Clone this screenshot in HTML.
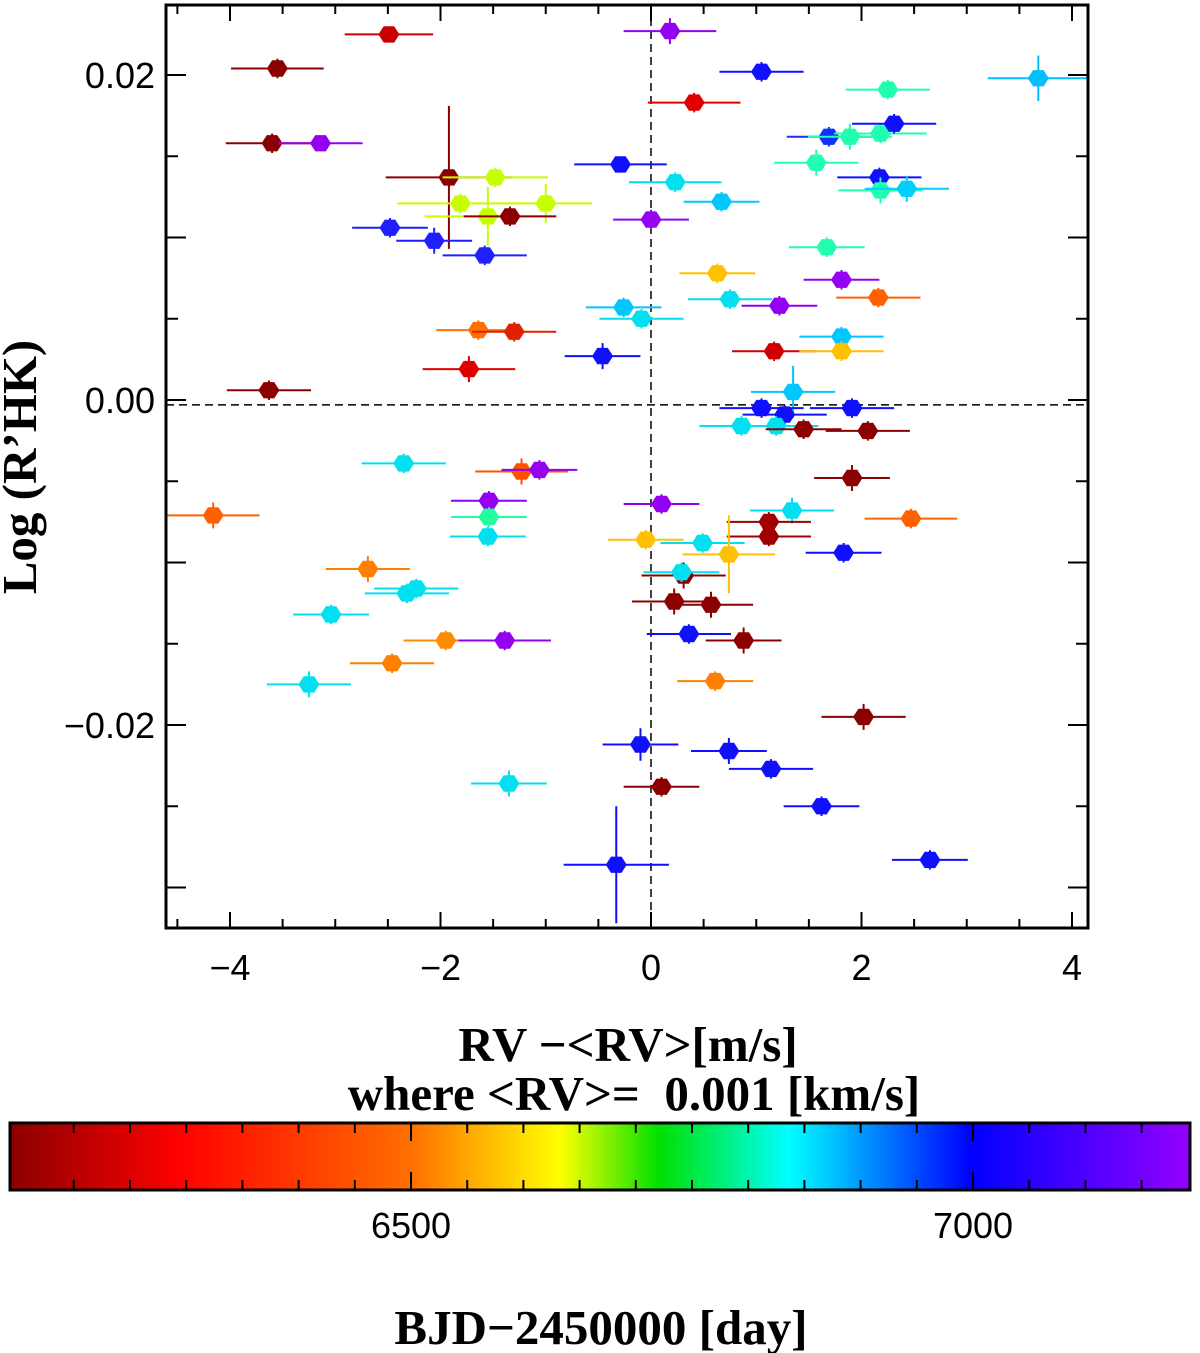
<!DOCTYPE html>
<html><head><meta charset="utf-8"><style>
body{margin:0;background:#fff;}
svg{display:block;}
.tl{font-family:"Liberation Sans",sans-serif;font-size:36px;}
.bl{font-family:"Liberation Serif",serif;font-weight:bold;font-size:49px;}
</style></head><body>
<svg id="c" width="1200" height="1353" xmlns="http://www.w3.org/2000/svg"></svg>
<script>
const xs=[-3.55,-2.49,0.18,1.05,3.68,2.25,0.41,-3.60,-3.14,1.69,1.89,2.18,2.31,1.57,-0.29,0.23,-1.92,-1.48,2.17,2.18,2.43,-1.81,-1.55,-1.00,-1.34,0.67,0.00,-2.48,-2.06,-1.58,1.67,0.63,1.81,0.75,-0.26,-0.09,1.22,2.16,-1.64,-1.30,1.81,1.17,1.81,-0.46,-1.73,-3.63,1.35,1.05,1.91,1.27,0.86,1.19,1.45,2.06,-2.35,-1.23,-1.06,1.91,-4.16,-1.54,0.10,-1.54,1.34,2.47,1.12,1.12,-1.55,-0.05,0.49,0.74,1.83,-2.69,0.31,0.29,-2.32,-2.23,0.22,0.57,-3.04,0.36,0.88,-1.95,-1.39,-2.46,-3.25,0.61,2.02,-0.10,0.74,1.14,1.62,-1.35,0.10,-0.33,2.65];
const ys=[0.0204,0.0225,0.0227,0.0202,0.0198,0.0191,0.0183,0.0158,0.0158,0.0162,0.0162,0.0164,0.0170,0.0146,0.0145,0.0134,0.0137,0.0137,0.0137,0.0129,0.0130,0.0121,0.0113,0.0121,0.0113,0.0122,0.0111,0.0106,0.0098,0.0089,0.0094,0.0078,0.0074,0.0062,0.0057,0.0050,0.0058,0.0063,0.0043,0.0042,0.0039,0.0030,0.0030,0.0027,0.0019,0.0006,0.0005,-0.0005,-0.0005,-0.0009,-0.0016,-0.0016,-0.0018,-0.0019,-0.0039,-0.0044,-0.0043,-0.0048,-0.0071,-0.0062,-0.0064,-0.0072,-0.0068,-0.0073,-0.0075,-0.0084,-0.0084,-0.0086,-0.0088,-0.0095,-0.0094,-0.0104,-0.0108,-0.0106,-0.0119,-0.0116,-0.0124,-0.0126,-0.0132,-0.0144,-0.0148,-0.0148,-0.0148,-0.0162,-0.0175,-0.0173,-0.0195,-0.0212,-0.0216,-0.0227,-0.0250,-0.0236,-0.0238,-0.0286,-0.0283];
const xerr=[0.44,0.42,0.44,0.4,0.48,0.4,0.44,0.44,0.4,0.4,0.4,0.44,0.4,0.4,0.44,0.44,0.6,0.5,0.4,0.4,0.4,0.6,0.6,0.44,0.44,0.36,0.36,0.36,0.36,0.4,0.36,0.36,0.36,0.4,0.36,0.4,0.36,0.4,0.4,0.4,0.4,0.4,0.4,0.36,0.44,0.4,0.4,0.4,0.4,0.4,0.4,0.4,0.36,0.4,0.4,0.44,0.36,0.36,0.44,0.36,0.36,0.36,0.4,0.44,0.4,0.4,0.36,0.36,0.4,0.44,0.36,0.4,0.4,0.36,0.4,0.4,0.4,0.4,0.36,0.4,0.36,0.4,0.44,0.4,0.4,0.36,0.4,0.36,0.36,0.4,0.36,0.36,0.36,0.5,0.36];
const yerr=[0.0006,0.0004,0.0008,0.0006,0.0014,0.0006,0.0006,0.0006,0.0004,0.0006,0.0008,0.0006,0.0006,0.0008,0.0004,0.0006,0.0044,0.0006,0.0006,0.0008,0.0008,0.0006,0.0018,0.0012,0.0006,0.0006,0.0006,0.0006,0.0008,0.0006,0.0006,0.0006,0.0006,0.0006,0.0006,0.0006,0.0006,0.0006,0.0006,0.0006,0.0006,0.0006,0.0006,0.0008,0.0008,0.0006,0.0016,0.0006,0.0006,0.0006,0.0006,0.0006,0.0006,0.0006,0.0006,0.0008,0.0006,0.0008,0.0008,0.0006,0.0006,0.0006,0.0008,0.0006,0.0006,0.0006,0.0006,0.0006,0.0006,0.0024,0.0006,0.0008,0.0008,0.0006,0.0006,0.0006,0.0008,0.0008,0.0006,0.0006,0.0008,0.0006,0.0006,0.0006,0.0008,0.0006,0.0008,0.0010,0.0008,0.0006,0.0006,0.0008,0.0006,0.0036,0.0006];
const cols=["#8b0000","#cc0000","#9400f0","#1010ff","#00bfff","#20ffb0","#e00000","#8b0000","#9400f0","#1030ff","#20ffb0","#20ffb0","#1010ff","#20ffb0","#1010ff","#00e0f0","#8b0000","#c8ff00","#1010ff","#20ffb0","#00d0ff","#c8ff00","#c8ff00","#c8ff00","#8b0000","#00c8ff","#9400f0","#2020ff","#2020ff","#2020ff","#20ffb0","#ffc000","#9400f0","#00e0f0","#00c8ff","#00e0f0","#9400f0","#ff6000","#ff7000","#e02000","#00c8ff","#d00000","#ffc000","#1010ff","#e00000","#8b0000","#00c8ff","#1010ff","#1010ff","#1010ff","#00e0f0","#00e0f0","#8b0000","#8b0000","#00e0f0","#ff5000","#9400f0","#8b0000","#ff6000","#9400f0","#9400f0","#20ffa0","#00e0f0","#ff6000","#a00000","#a00000","#00e0f0","#ffc000","#00e0f0","#ffc000","#1010ff","#ff8000","#8b0000","#00e0f0","#00e0f0","#00e0f0","#8b0000","#8b0000","#00e0f0","#1010ff","#8b0000","#ff8c00","#9400f0","#ff8000","#00e0f0","#ff8000","#8b0000","#1010ff","#1010ff","#1010ff","#1010ff","#00e0f0","#8b0000","#1010ff","#1010ff"];
const xTicks=[-4,-2,0,2,4];
const yTicks=[0.02,0.00,-0.02];
const yTickLabels=["0.02","0.00","\u22120.02"];
const xTickLabels=["\u22124","\u22122","0","2","4"];
const cbTicks=[6500,7000];

const NS="http://www.w3.org/2000/svg";
const svg=document.getElementById('c');
const L=166,R=1088,T=5,B=928;
const X=v=>651+v*105.25, Y=v=>400-v*16250;
const CB0=10,CB1=1190,CBT=1123,CBB=1190;
const CX=d=>411+(d-6500)*1.124;
function el(t,a,p){const e=document.createElementNS(NS,t);for(const k in a)e.setAttribute(k,a[k]);(p||svg).appendChild(e);return e;}

const defs=el('defs',{});
const g=el('linearGradient',{id:'gr',x1:0,x2:1,y1:0,y2:0},defs);
[[0,'#8b0000'],[0.144,'#ff0000'],[0.34,'#ff7000'],[0.466,'#ffff00'],[0.55,'#00e000'],[0.66,'#00ffff'],[0.814,'#0000ff'],[1,'#9400ff']].forEach(s=>el('stop',{offset:s[0],'stop-color':s[1]},g));

const d1=el('line',{x1:X(0),x2:X(0),y1:T,y2:B,stroke:'#000','stroke-width':1.5,'stroke-dasharray':'8,5'});


const d2=el('line',{x1:L,x2:R,y1:Y(-0.0003),y2:Y(-0.0003),stroke:'#000','stroke-width':1.5,'stroke-dasharray':'8,5'});



const clip=el('clipPath',{id:'pc'},defs);
el('rect',{x:L,y:T,width:R-L,height:B-T},clip);
const pg=el('g',{'clip-path':'url(#pc)'});


for(let i=0;i<xs.length;i++){
  const cx=X(xs[i]),cy=Y(ys[i]),c=cols[i];
  const p=el('g',{},pg);
  
  
  el('line',{x1:X(xs[i]-xerr[i]),x2:X(xs[i]+xerr[i]),y1:cy,y2:cy,stroke:c,'stroke-width':2},p);
  el('line',{x1:cx,x2:cx,y1:Y(ys[i]+yerr[i]),y2:Y(ys[i]-yerr[i]),stroke:c,'stroke-width':2},p);
  const r=10.5,pts=[];
  for(let k=0;k<6;k++){const a=k*Math.PI/3;pts.push((cx+r*Math.cos(a)).toFixed(1)+','+(cy+r*0.9*Math.sin(a)).toFixed(1));}
  el('polygon',{points:pts.join(' '),fill:c},p);
}

const fr=el('rect',{x:L,y:T,width:R-L,height:B-T,fill:'none',stroke:'#000','stroke-width':3});


const tg=el('g',{stroke:'#000','stroke-width':2});


for(let v=-4.5;v<=4.01;v+=0.5){const x=X(v);const maj=Math.abs(v-Math.round(v/2)*2)<1e-6;const l=maj?16:9;
  el('line',{x1:x,x2:x,y1:B,y2:B-l},tg);el('line',{x1:x,x2:x,y1:T,y2:T+l},tg);}
for(let v=-0.03;v<=0.0226;v+=0.005){const y=Y(v);const maj=Math.abs(v*100-Math.round(v*100))<1e-6;const l=maj?20:12;
  el('line',{x1:L,x2:L+l,y1:y,y2:y},tg);el('line',{x1:R,x2:R-l,y1:y,y2:y},tg);}
xTicks.forEach((v,i)=>{const t=el('text',{x:X(v),y:980,'text-anchor':'middle',class:'tl'});t.textContent=xTickLabels[i];
  });
yTicks.forEach((v,i)=>{const t=el('text',{x:155,y:Y(v)+13,'text-anchor':'end',class:'tl'});t.textContent=yTickLabels[i];
  });

const cb=el('rect',{x:CB0,y:CBT,width:CB1-CB0,height:CBB-CBT,fill:'url(#gr)',stroke:'#000','stroke-width':3});


const cg=el('g',{stroke:'#000','stroke-width':2});


for(let d=6200;d<=7150;d+=50){const x=CX(d);const l=(d%500==0)?18:10;
  el('line',{x1:x,x2:x,y1:CBT,y2:CBT+l},cg);el('line',{x1:x,x2:x,y1:CBB,y2:CBB-l},cg);}
cbTicks.forEach(d=>{const t=el('text',{x:CX(d),y:1238,'text-anchor':'middle',class:'tl'});t.textContent=d;
  });
</script>
<svg style="position:absolute;left:0;top:0" width="1200" height="1353" xmlns="http://www.w3.org/2000/svg">
<text class="bl" transform="translate(36,467) rotate(-90)" text-anchor="middle">Log (R’HK)</text>
<text class="bl" x="628" y="1061" text-anchor="middle">RV −&lt;RV&gt;[m/s]</text>
<text class="bl" x="634" y="1110" text-anchor="middle" xml:space="preserve">where &lt;RV&gt;=  0.001 [km/s]</text>
<text class="bl" x="601" y="1344" text-anchor="middle">BJD−2450000 [day]</text>
</svg>
</body></html>
